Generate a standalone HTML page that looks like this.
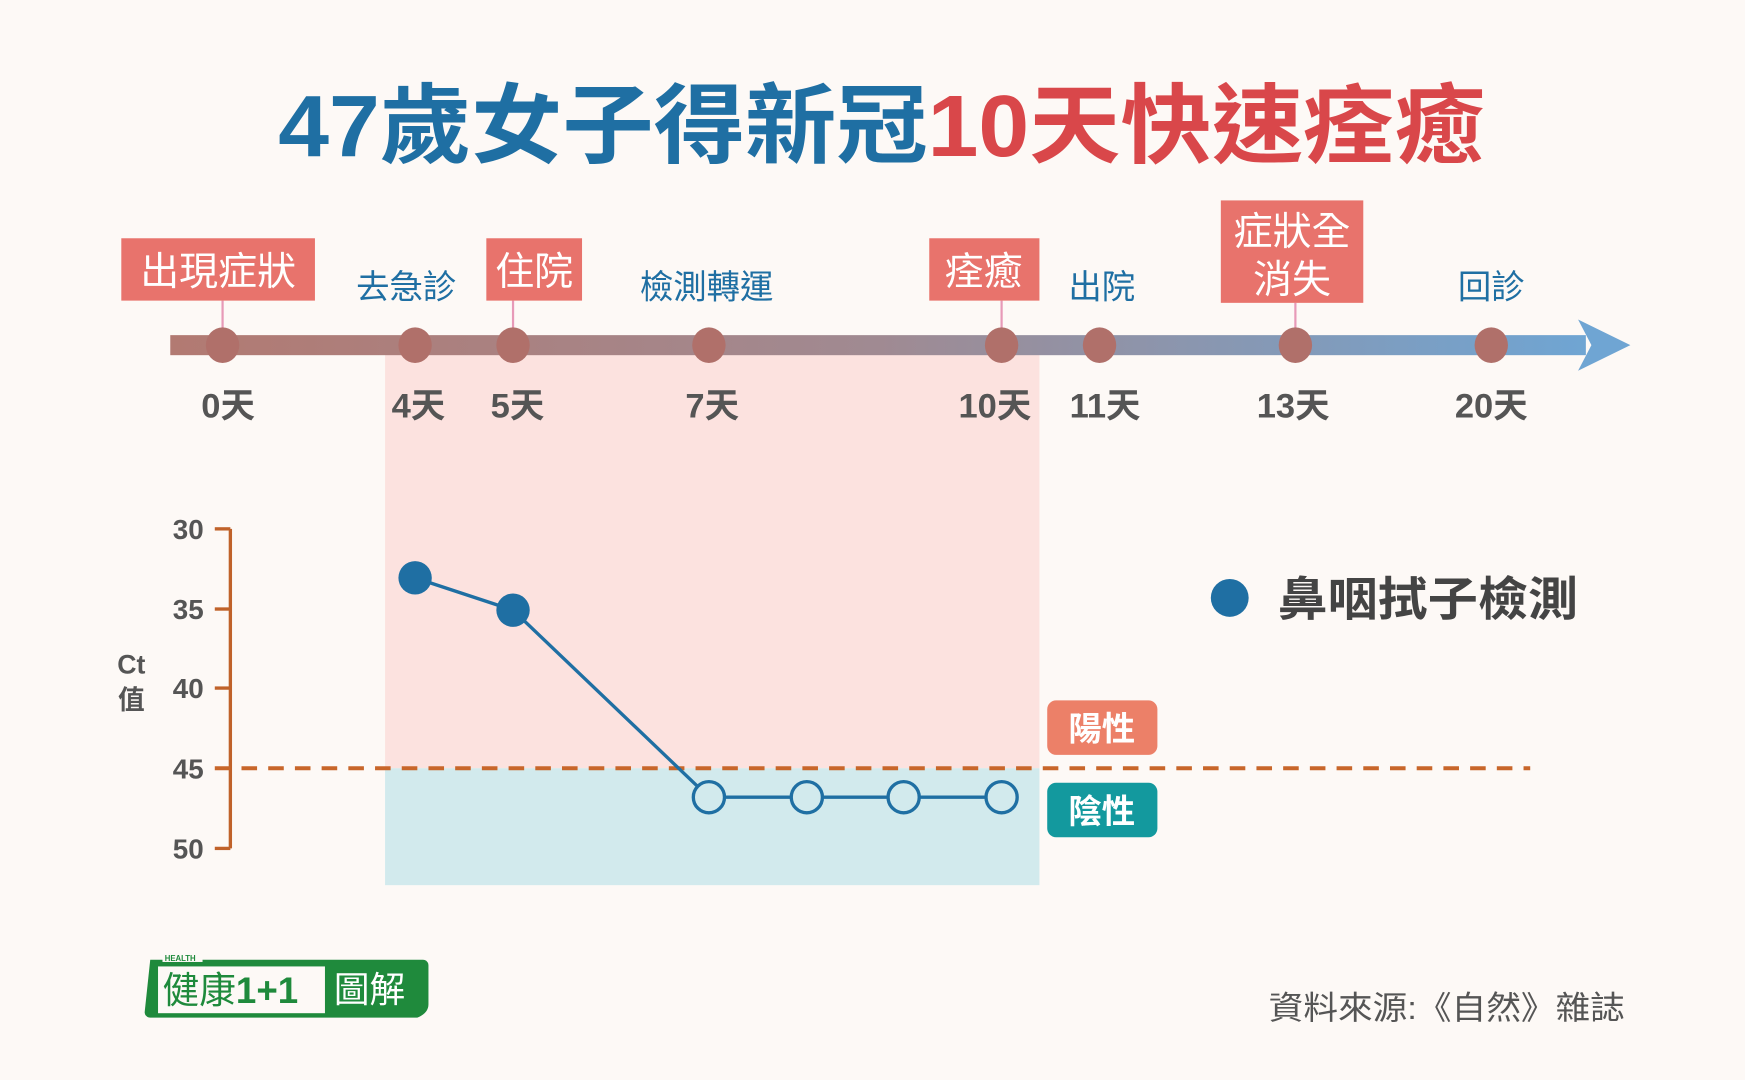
<!DOCTYPE html>
<html><head><meta charset="utf-8"><style>
html,body{margin:0;padding:0;background:#fdf9f6;}
svg{display:block;}
text{font-family:"Liberation Sans","Noto Sans CJK TC",sans-serif;}
</style></head><body>
<svg width="1745" height="1080" viewBox="0 0 1568 970" preserveAspectRatio="none" xmlns="http://www.w3.org/2000/svg">
<defs>
<linearGradient id="g" x1="0" x2="1"><stop offset="0" stop-color="#b27a72"/><stop offset="0.5" stop-color="#a08a92"/><stop offset="1" stop-color="#6fa5d3"/></linearGradient>
</defs>
<rect width="1568" height="970" fill="#fdf9f6"/>
<text x="250" y="140" font-size="78" font-weight="bold" textLength="1085" lengthAdjust="spacingAndGlyphs"><tspan fill="#1f6fa3">47歲女子得新冠</tspan><tspan fill="#d9474a">10天快速痊癒</tspan></text>
<rect x="346" y="318" width="588" height="372" fill="#fce2df"/>
<rect x="346" y="690" width="588" height="105" fill="#d2eaed"/>
<rect x="153" y="301" width="1272" height="18" fill="url(#g)"/>
<polygon points="1418,287 1465,310 1418,333 1430,310" fill="#6fa5d3"/>
<g stroke="#e79ab8" stroke-width="2">
<line x1="200" y1="270" x2="200" y2="300"/><line x1="461" y1="270" x2="461" y2="300"/><line x1="900" y1="270" x2="900" y2="300"/><line x1="1164" y1="272" x2="1164" y2="300"/></g>
<g fill="#b0706a">
<ellipse cx="200" cy="310" rx="15" ry="16"/><ellipse cx="373" cy="310" rx="15" ry="16"/><ellipse cx="461" cy="310" rx="15" ry="16"/><ellipse cx="637" cy="310" rx="15" ry="16"/><ellipse cx="900" cy="310" rx="15" ry="16"/><ellipse cx="988" cy="310" rx="15" ry="16"/><ellipse cx="1164" cy="310" rx="15" ry="16"/><ellipse cx="1340" cy="310" rx="15" ry="16"/></g>
<g fill="#555" font-size="31" font-weight="bold" text-anchor="middle">
<text x="205" y="375">0天</text><text x="376" y="375">4天</text><text x="465" y="375">5天</text><text x="640" y="375">7天</text><text x="894" y="375">10天</text><text x="993" y="375">11天</text><text x="1162" y="375">13天</text><text x="1340" y="375">20天</text></g>
<g fill="#e8736c">
<rect x="109" y="214" width="174" height="56"/><rect x="437" y="214" width="86" height="56"/><rect x="835" y="214" width="99" height="56"/><rect x="1097" y="180" width="128" height="92"/></g>
<g fill="#fff" font-size="35" text-anchor="middle">
<text x="196" y="256">出現症狀</text><text x="480" y="256">住院</text><text x="884" y="256">痊癒</text><text x="1161" y="220">症狀全</text><text x="1161" y="263">消失</text></g>
<g fill="#1f6fa3" font-size="30" text-anchor="middle">
<text x="365" y="268">去急診</text><text x="635" y="268">檢測轉運</text><text x="990" y="268">出院</text><text x="1340" y="268">回診</text></g>
<g stroke="#c0622a" stroke-width="3">
<line x1="207" y1="475" x2="207" y2="762"/>
<line x1="193" y1="475" x2="207" y2="475"/><line x1="193" y1="547" x2="207" y2="547"/><line x1="193" y1="618" x2="207" y2="618"/><line x1="193" y1="762" x2="207" y2="762"/></g>
<line x1="193" y1="690" x2="1375" y2="690" stroke="#c8662a" stroke-width="3.5" stroke-dasharray="14,10"/>
<g fill="#555" font-size="25" font-weight="bold" text-anchor="end">
<text x="183" y="484">30</text><text x="183" y="556">35</text><text x="183" y="627">40</text><text x="183" y="699">45</text><text x="183" y="771">50</text></g>
<text x="118" y="605" fill="#555" font-size="24" font-weight="bold" text-anchor="middle">Ct</text>
<text x="118" y="637" fill="#555" font-size="24" font-weight="bold" text-anchor="middle">值</text>
<polyline points="373,519 461,548 637,716 900,716" fill="none" stroke="#1f6fa3" stroke-width="3"/>
<circle cx="373" cy="519" r="15" fill="#1f6fa3"/><circle cx="461" cy="548" r="15" fill="#1f6fa3"/>
<g fill="#d2eaed" stroke="#1f6fa3" stroke-width="3"><circle cx="637" cy="716" r="14"/><circle cx="725" cy="716" r="14"/><circle cx="812" cy="716" r="14"/><circle cx="900" cy="716" r="14"/></g>
<circle cx="1105" cy="537" r="17" fill="#1f6fa3"/>
<text x="1148" y="553" fill="#444" font-size="42" font-weight="bold" textLength="270" lengthAdjust="spacingAndGlyphs">鼻咽拭子檢測</text>
<rect x="941" y="629" width="99" height="49" rx="8" fill="#ec8068"/>
<rect x="941" y="703" width="99" height="49" rx="8" fill="#13999e"/>
<g fill="#fff" font-size="30" font-weight="bold" text-anchor="middle"><text x="990" y="665">陽性</text><text x="990" y="739">陰性</text></g>
<path d="M135,862 h245 a5,5 0 0 1 5,5 v35 q0,8 -10,12 l-240,0 a5,5 0 0 1 -5,-5 z" fill="#1f8a3c"/>
<rect x="142" y="868" width="150" height="42" fill="#fdf9f6"/>
<rect x="146" y="856" width="36" height="8" fill="#fdf9f6"/>
<text x="148" y="863" font-size="7" font-weight="bold" fill="#1f8a3c">HEALTH</text>
<text x="146" y="901" font-size="33" fill="#1f8a3c">健康<tspan font-weight="bold">1+1</tspan></text>
<text x="300" y="900" font-size="32" fill="#fff">圖解</text>
<text x="1140" y="915" font-size="29" fill="#555" textLength="320" lengthAdjust="spacingAndGlyphs">資料來源:《自然》雜誌</text>
</svg>
</body></html>
